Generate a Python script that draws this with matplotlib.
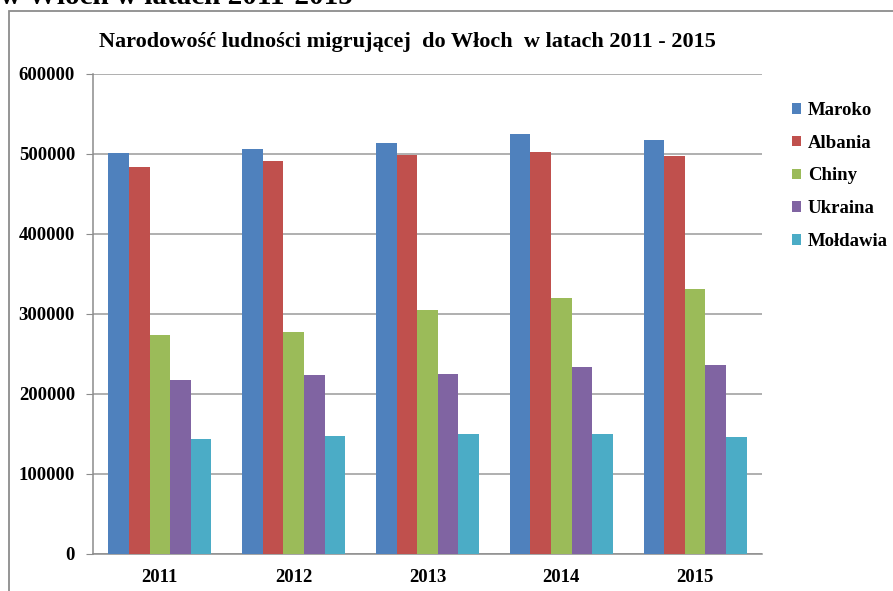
import matplotlib
matplotlib.use("Agg")
import matplotlib.pyplot as plt
import numpy as np
from matplotlib.patches import Rectangle

years = ["2011", "2012", "2013", "2014", "2015"]
series_names = ["Maroko", "Albania", "Chiny", "Ukraina", "Mołdawia"]
maroko = [501000, 506000, 514000, 525000, 518000]
albania = [484000, 491000, 499000, 502000, 498000]
chiny = [274000, 277000, 305000, 320000, 331000]
ukraina = [218000, 224000, 225000, 234000, 236000]
moldawia = [144000, 148000, 150000, 150000, 146000]
yticks = [0, 100000, 200000, 300000, 400000, 500000, 600000]
colors = ["#4F81BD", "#C0504D", "#9BBB59", "#8064A2", "#4BACC6"]

plt.rcParams['font.family'] = ['Liberation Serif', 'DejaVu Serif']

W, H = 893, 591
fig = plt.figure(figsize=(W/100, H/100), dpi=100)

# outer chart frame
fig.patches.append(Rectangle((9/W, -0.1), 1.2, 1 - 11/H + 0.1, transform=fig.transFigure,
                             fill=False, edgecolor="#8c8c8c", linewidth=1.3))
# cut-off heading text above the frame
fig.text(0/W, 1 + 4/H, "w Włoch w latach 2011-2015", fontsize=21, fontweight='bold',
         ha='left', va='center', color='black')

ax = fig.add_axes([93/W, 1 - 554/H, (762-93)/W, (554-74)/H])
data = [maroko, albania, chiny, ukraina, moldawia]
n = len(data)
bw = 1 / (n + 1.5)
x = np.arange(len(years))
for i, (vals, name, c) in enumerate(zip(data, series_names, colors)):
    ax.bar(x - 0.5 + 0.75 * bw + i * bw + bw / 2, vals, width=bw, color=c, label=name,
           edgecolor='none', zorder=3)

ax.set_xlim(-0.5, len(years) - 0.5)
ax.set_ylim(0, 600000)
ax.set_yticks(yticks)
ax.set_yticklabels([str(v) for v in yticks], fontsize=13.5, fontweight='bold')
ax.set_xticks(x)
ax.set_xticklabels(years, fontsize=13.5, fontweight='bold')
ax.tick_params(axis='x', length=0, pad=11)
ax.tick_params(axis='y', length=5, color='#8c8c8c', pad=8)
ax.grid(axis='y', color='#9a9a9a', linewidth=1.1, zorder=0)
for s in ['top', 'right']:
    ax.spines[s].set_visible(False)
for s in ['left', 'bottom']:
    ax.spines[s].set_color('#8c8c8c')
    ax.spines[s].set_linewidth(1.1)

fig.text(407/W, 1 - 42/H, "Narodowość ludności migrującej  do Włoch  w latach 2011 - 2015",
         fontsize=16, fontweight='bold', ha='center', va='center')

leg = fig.legend(loc='upper left', bbox_to_anchor=(792/W, 1 - 102/H), frameon=False,
                 borderaxespad=0, borderpad=0,
                 prop={'weight': 'bold', 'size': 13.5}, handlelength=0.5, handleheight=0.5,
                 labelspacing=0.84, handletextpad=0.35)

fig.savefig("out.png", dpi=100)
